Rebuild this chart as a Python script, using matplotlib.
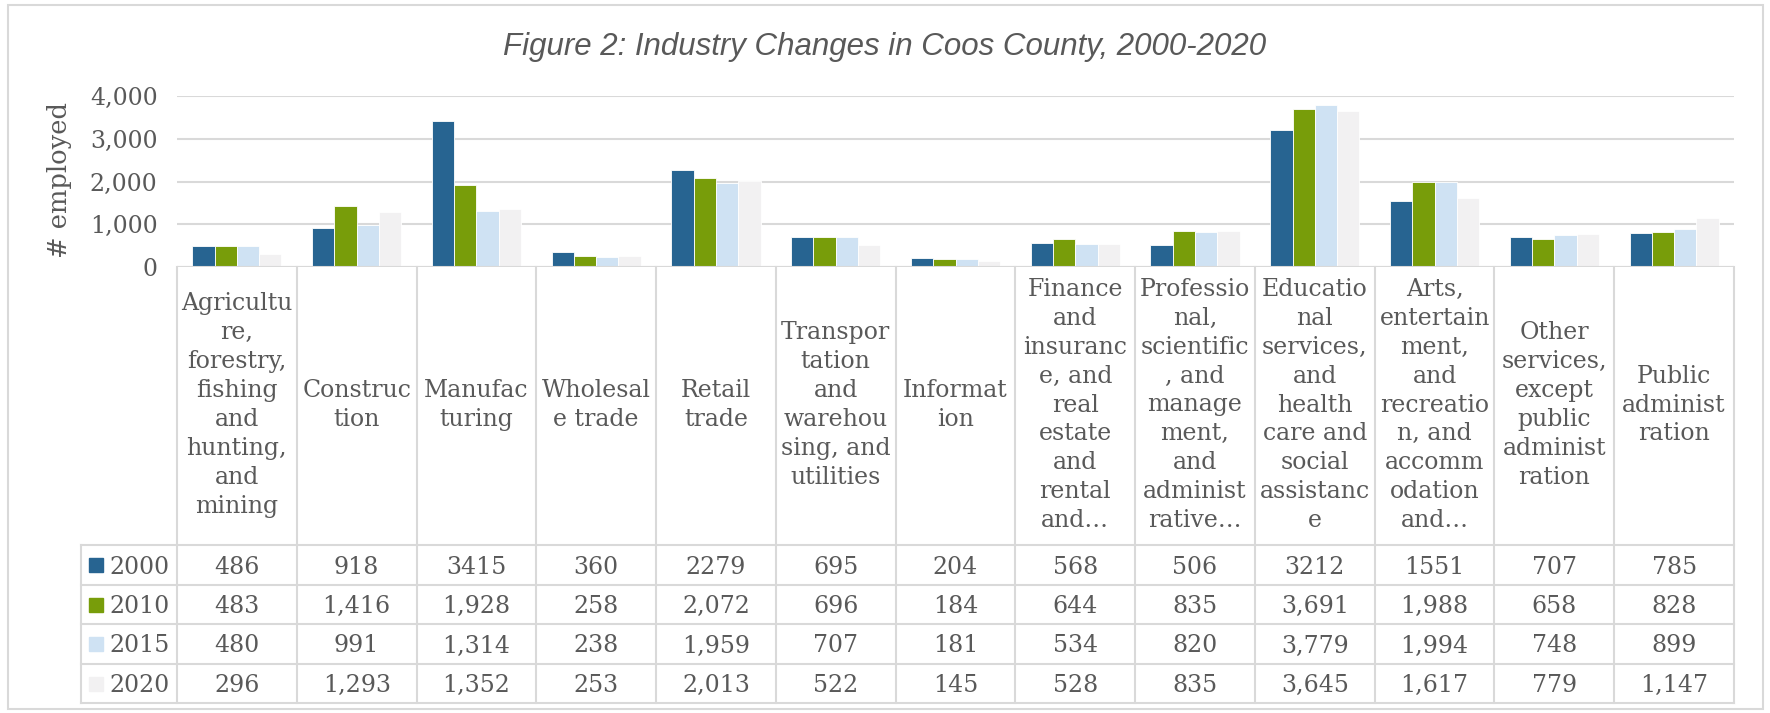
import numpy as np
import matplotlib
matplotlib.use("Agg")
import matplotlib.pyplot as plt
from matplotlib.transforms import blended_transform_factory
from matplotlib.patches import Rectangle

# Данные
categories = [
    "Agricultu\nre,\nforestry,\nfishing\nand\nhunting,\nand\nmining",
    "Construc\ntion",
    "Manufac\nturing",
    "Wholesal\ne trade",
    "Retail\ntrade",
    "Transpor\ntation\nand\nwarehou\nsing, and\nutilities",
    "Informat\nion",
    "Finance\nand\ninsuranc\ne, and\nreal\nestate\nand\nrental\nand…",
    "Professio\nnal,\nscientific\n, and\nmanage\nment,\nand\nadminist\nrative…",
    "Educatio\nnal\nservices,\nand\nhealth\ncare and\nsocial\nassistanc\ne",
    "Arts,\nentertain\nment,\nand\nrecreatio\nn, and\naccomm\nodation\nand…",
    "Other\nservices,\nexcept\npublic\nadminist\nration",
    "Public\nadminist\nration",
]
years = ["2000", "2010", "2015", "2020"]
emp_2000 = [486, 918, 3415, 360, 2279, 695, 204, 568, 506, 3212, 1551, 707, 785]
emp_2010 = [483, 1416, 1928, 258, 2072, 696, 184, 644, 835, 3691, 1988, 658, 828]
emp_2015 = [480, 991, 1314, 238, 1959, 707, 181, 534, 820, 3779, 1994, 748, 899]
emp_2020 = [296, 1293, 1352, 253, 2013, 522, 145, 528, 835, 3645, 1617, 779, 1147]
series = [emp_2000, emp_2010, emp_2015, emp_2020]
colors = ["#276491", "#789d0a", "#cfe2f3", "#f2f1f2"]

W, H = 1770, 713
txt = "#595959"
grid = "#d9d9d9"
serif = "DejaVu Serif"
fs = 17

def fx(p):
    return p / W

def fy(p):
    return 1 - p / H

fig = plt.figure(figsize=(W / 100, H / 100), dpi=100)

# рамка
fig.patches.append(Rectangle((fx(8), fy(709)), fx(1763) - fx(8), fy(5) - fy(709),
                             transform=fig.transFigure, fill=False,
                             edgecolor=grid, lw=1.5))

L, R, T, B = 177, 1734, 96, 267
ax = fig.add_axes([fx(L), fy(B), fx(R) - fx(L), fy(T) - fy(B)])

n = len(categories)
x = np.arange(n)
bw = 0.186
for i, (vals, c) in enumerate(zip(series, colors)):
    ax.bar(x + (i - 1.5) * bw, vals, width=bw, color=c, edgecolor="white",
           linewidth=0.6, zorder=3)

ax.set_xlim(-0.5, n - 0.5)
ax.set_ylim(0, 4000)
ax.set_yticks([0, 1000, 2000, 3000, 4000])
ax.set_yticklabels(["0", "1,000", "2,000", "3,000", "4,000"],
                   fontsize=fs, color=txt, family=serif)
ax.set_xticks([])
ax.tick_params(axis="y", length=0, pad=14)
for s in ax.spines.values():
    s.set_visible(False)
ax.yaxis.grid(True, color=grid, lw=1.5, zorder=0)
ax.axhline(0, color=grid, lw=1.5, zorder=4)

fig.text(fx(59), fy(180), "# employed", rotation=90, ha="center", va="center",
         fontsize=18.5, color=txt, family=serif)

fig.text(0.5, fy(47), "Figure 2: Industry Changes in Coos County, 2000-2020",
         ha="center", va="center", fontsize=22.5, style="italic", color=txt,
         family="Liberation Sans")

# таблица данных под графиком
bt = blended_transform_factory(ax.transData, fig.transFigure)
row_lines = [545, 585, 624, 664, 703]
for k in range(n + 1):
    ax.plot([k - 0.5, k - 0.5], [fy(B), fy(703)], transform=bt, color=grid,
            lw=1.5, clip_on=False)
for yl in row_lines:
    fig.add_artist(plt.Line2D([fx(81), fx(R)], [fy(yl), fy(yl)], color=grid, lw=1.5))
fig.add_artist(plt.Line2D([fx(81), fx(81)], [fy(545), fy(703)], color=grid, lw=1.5))

for k, lab in enumerate(categories):
    ax.text(k, fy(405), lab, transform=bt, ha="center", va="center",
            multialignment="center", fontsize=fs, color=txt, family=serif,
            linespacing=1.33, clip_on=False)

for r, (yr, vals, c) in enumerate(zip(years, series, colors)):
    yc = (row_lines[r] + row_lines[r + 1]) / 2
    fig.patches.append(Rectangle((fx(89), fy(yc + 7)), fx(14), 14 / H,
                                 transform=fig.transFigure, color=c))
    fig.text(fx(109), fy(yc + 2), yr, ha="left", va="center", fontsize=17,
             color=txt, family=serif)
    for k, v in enumerate(vals):
        s = str(v) if yr == "2000" else f"{v:,}"
        ax.text(k, fy(yc + 2), s, transform=bt, ha="center", va="center",
                fontsize=fs, color=txt, family=serif, clip_on=False)

fig.savefig("out.png", dpi=100)
